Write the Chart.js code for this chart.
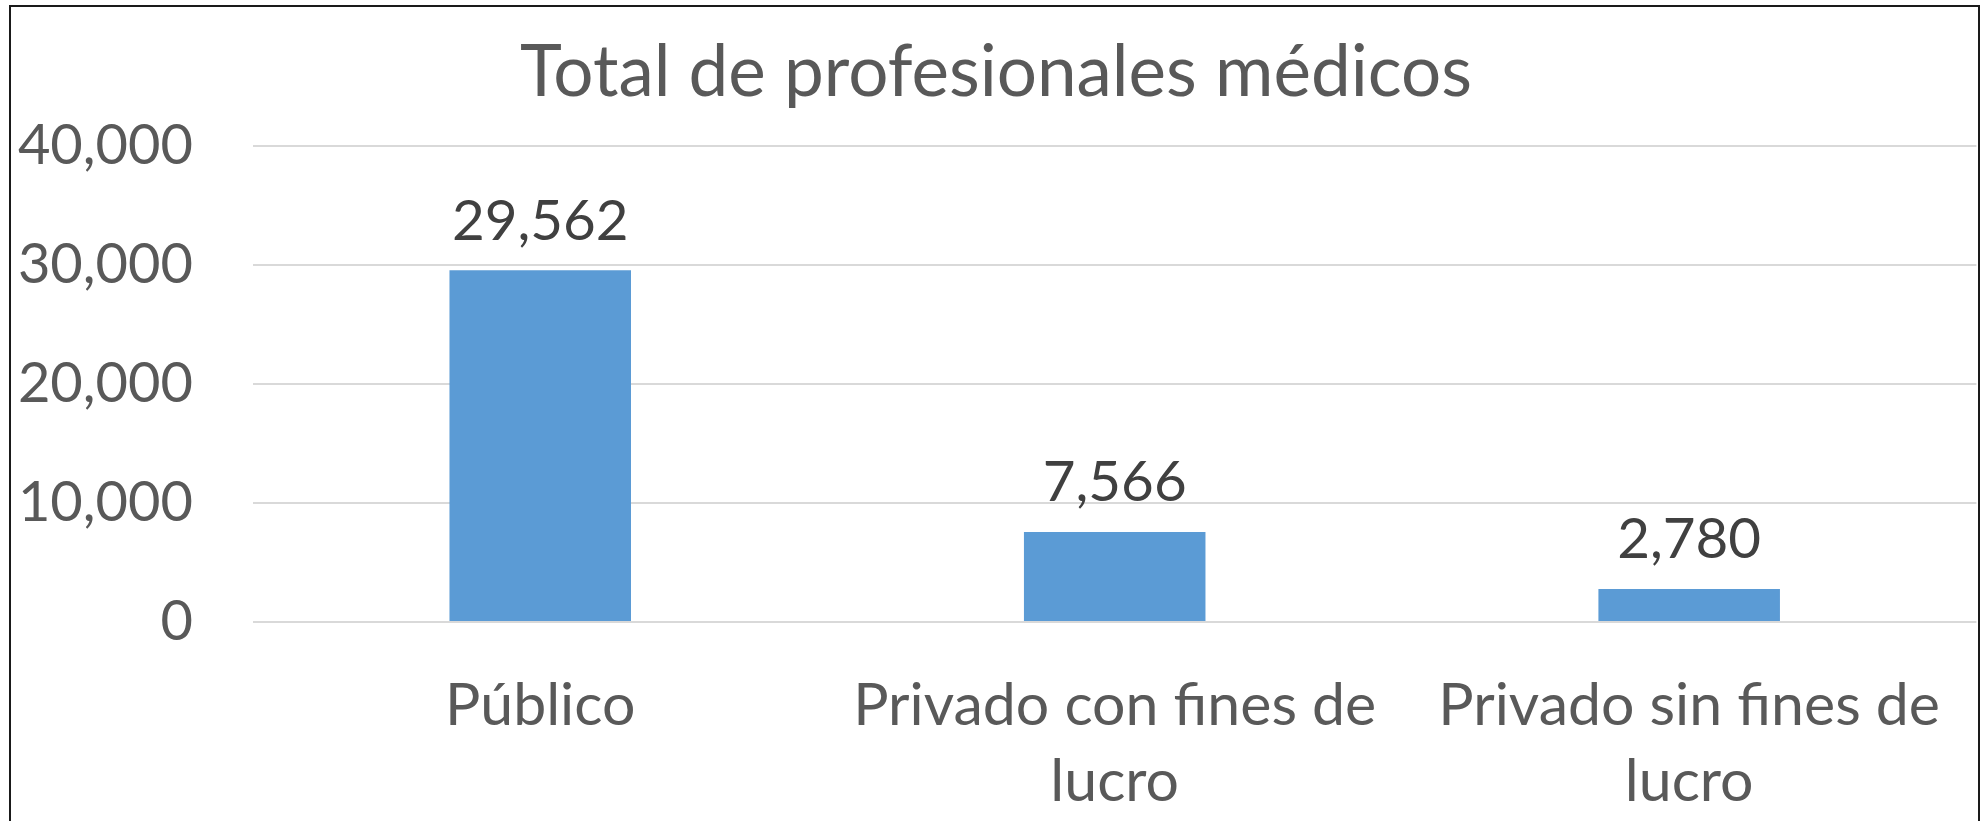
<!DOCTYPE html>
<html>
<head>
<meta charset="utf-8">
<script src="https://cdn.jsdelivr.net/npm/chart.js@4/dist/chart.umd.min.js"></script>
<style>
  html, body { margin: 0; padding: 0; background: #ffffff; }
  #wrap { width: 1987px; height: 821px; }
</style>
</head>
<body>
<div id="wrap"><canvas id="c" width="1987" height="821"></canvas></div>
<script>
const titleText = 'Total de profesionales médicos';
const categories = ['Público', 'Privado con fines de lucro', 'Privado sin fines de lucro'];
const values = [29562, 7566, 2780];
const yTicks = [0, 10000, 20000, 30000, 40000];

const FONT = 'Lato, "Open Sans", sans-serif';

function wrapLabel(s, maxChars) {
  const words = s.split(' ');
  const lines = [];
  let cur = '';
  for (const w of words) {
    const t = cur ? cur + ' ' + w : w;
    if (t.length > maxChars && cur) { lines.push(cur); cur = w; }
    else cur = t;
  }
  if (cur) lines.push(cur);
  return lines;
}

const fmt = v => v.toLocaleString('en-US');

const borderPlugin = {
  id: 'frame',
  afterDraw(chart) {
    const ctx = chart.ctx;
    ctx.save();
    ctx.strokeStyle = '#1a1a1a';
    ctx.lineWidth = 2;
    ctx.strokeRect(10, 6, 1969, 900);
    ctx.restore();
  }
};

const dataLabelPlugin = {
  id: 'dataLabels',
  afterDatasetsDraw(chart) {
    const ctx = chart.ctx;
    const meta = chart.getDatasetMeta(0);
    ctx.save();
    ctx.font = '56.5px ' + FONT;
    ctx.fillStyle = '#404040';
    ctx.textAlign = 'center';
    ctx.textBaseline = 'middle';
    meta.data.forEach((bar, i) => {
      ctx.fillText(fmt(values[i]), bar.x, bar.y - 49);
    });
    ctx.restore();
  }
};

new Chart(document.getElementById('c'), {
  type: 'bar',
  data: {
    labels: categories.map(c => wrapLabel(c, 20)),
    datasets: [{
      data: values,
      backgroundColor: '#5B9BD5',
      borderWidth: 0,
      categoryPercentage: 1.0,
      barPercentage: 0.316
    }]
  },
  options: {
    responsive: false,
    animation: false,
    devicePixelRatio: 1,
    layout: { padding: { left: 11, right: 6, top: 0, bottom: 0 } },
    plugins: {
      legend: { display: false },
      tooltip: { enabled: false },
      title: {
        display: true,
        text: titleText,
        color: '#595959',
        font: { family: FONT, size: 71, weight: 'normal', lineHeight: 1.2 },
        padding: { top: 31, bottom: 30 }
      }
    },
    scales: {
      x: {
        grid: { display: false, drawTicks: false },
        border: { display: false },
        ticks: {
          color: '#595959',
          font: { family: FONT, size: 59, lineHeight: 1.29 },
          padding: 46,
          maxRotation: 0,
          minRotation: 0,
          autoSkip: false
        },
        afterFit(scale) { scale.height = 199; }
      },
      y: {
        min: 0,
        max: 40000,
        grid: { color: '#D9D9D9', lineWidth: 2, drawTicks: false },
        border: { display: false },
        afterBuildTicks(scale) { scale.ticks = yTicks.map(v => ({ value: v })); },
        ticks: {
          color: '#595959',
          font: { family: FONT, size: 56 },
          padding: 60,
          callback: v => fmt(v)
        },
        afterFit(scale) { scale.width = 242; }
      }
    }
  },
  plugins: [borderPlugin, dataLabelPlugin]
});
</script>
</body>
</html>
